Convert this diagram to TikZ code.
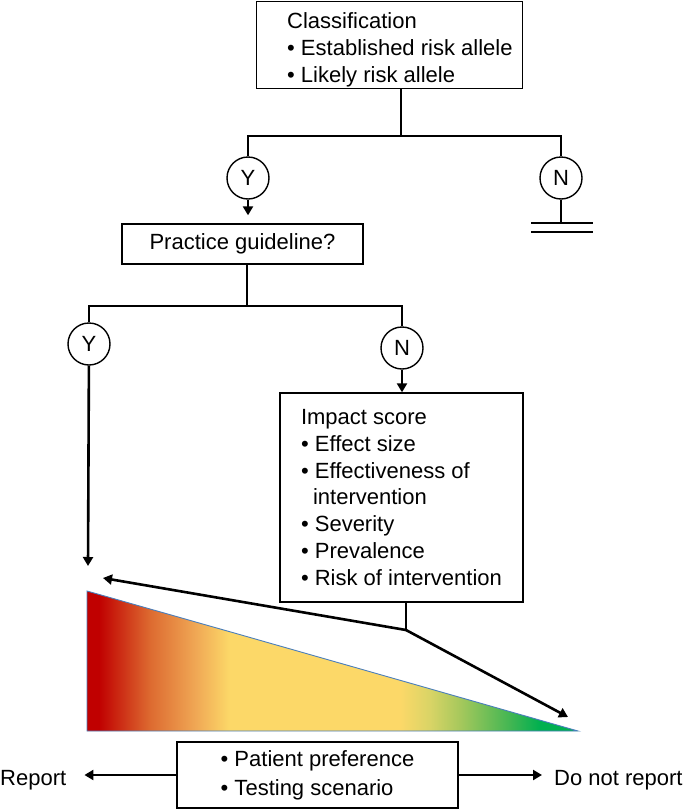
\documentclass[tikz,border=0pt]{standalone}
\usepackage{fontspec}
\setmainfont{Liberation Sans}
\usetikzlibrary{arrows.meta}

\definecolor{riskA}{HTML}{C00000}
\definecolor{riskB}{HTML}{DD6A30}
\definecolor{riskC}{HTML}{F0A855}
\definecolor{riskD}{HTML}{FCD868}
\definecolor{riskE}{HTML}{D9D466}
\definecolor{riskF}{HTML}{A6C85C}
\definecolor{riskG}{HTML}{3DB552}
\definecolor{riskH}{HTML}{00B050}
\definecolor{riskedge}{HTML}{4A7EBB}

\pgfdeclarehorizontalshading{riskbar}{100bp}{color(0bp)=(riskA); color(25bp)=(riskA); color(26.2bp)=(riskA);
  color(31.4bp)=(riskB); color(36.1bp)=(riskC); color(39.5bp)=(riskD); color(56.9bp)=(riskD);
  color(59.9bp)=(riskE); color(63bp)=(riskF); color(68.3bp)=(riskG); color(71.1bp)=(riskH);
  color(75bp)=(riskH); color(100bp)=(riskH)}

\begin{document}
\begin{tikzpicture}[x=1pt, y=-1pt, >={Triangle[length=9pt,width=10pt]},
    every node/.style={font=\fontsize{22}{26.8}\selectfont},
    box/.style={draw, line width=1.4pt, inner sep=0pt, align=left},
    yn node/.style={circle, draw, line width=1.4pt, minimum size=42pt, inner sep=0pt},
    link/.style={line width=2.6pt}]

  \useasboundingbox (0,0) rectangle (685,809);

  % Classification
  \node[box, minimum width=266pt, minimum height=87pt, anchor=north west] (cls) at (256,1) {};
  \node[anchor=north west, inner sep=0pt, align=left] (clstext) at (287,12.5)
    {Classification\\• Established risk allele\\• Likely risk allele};

  % Level 1
  \coordinate (j1) at (401,136);
  \node[yn node] (y1) at (248,178) {Y};
  \node[yn node] (n1) at (561,178) {N};
  \node[box, align=center, minimum width=241pt, minimum height=40pt] (pg) at (242.5,244) {Practice guideline?};

  % stop sign under N
  \coordinate (g1) at (561,223);
  \coordinate (g2) at (561,232);

  % Level 2
  \coordinate (j2) at (247,306);
  \node[yn node] (y2) at (89,344) {Y};
  \node[yn node] (n2) at (402,348) {N};
  \node[box, minimum width=243pt, minimum height=209pt] (imp) at (401.5,497.5)
    {Impact score\\• Effect size\\• Effectiveness of\\\hspace*{12pt}intervention\\• Severity\\• Prevalence\\• Risk of intervention};

  % Scale
  \coordinate (ytip) at (88,566);
  \coordinate (j3) at (406,630);
  \coordinate (ltip) at (103,578);
  \coordinate (rtip) at (568,717);
  \coordinate (t1) at (87,591);
  \coordinate (t2) at (87,731);
  \coordinate (t3) at (578,731);
  \shadedraw[shading=riskbar, draw=riskedge, line width=0.9pt] (t1) -- (t2) -- (t3) -- cycle;

  % Bottom row
  \node[box, align=left, minimum width=281pt, minimum height=66pt,
    font=\fontsize{22}{29}\selectfont] (pref) at (317.5,775) {• Patient preference\\• Testing scenario};
  \node[anchor=base west, inner sep=0pt] (rep) at (0,785) {Report};
  \node[anchor=base west, inner sep=0pt] (norep) at (554,785) {Do not report};

  % Connectors
  \draw[link] (cls.south -| j1) -- (j1);
  \draw[link] (y1.north) |- (j1) -| (n1.north);
  \draw[link, ->, shorten >=8pt] (y1) -- (y1 |- pg.north);
  \draw[link] (n1) -- (g1);
  \draw[link] ([xshift=-30pt]g1) -- ([xshift=32pt]g1);
  \draw[link] ([xshift=-30pt]g2) -- ([xshift=32pt]g2);
  \draw[link] (pg.south -| j2) -- (j2);
  \draw[link] (y2.north) |- (j2) -| (n2.north);
  \draw[link, ->] (n2) -- (n2 |- imp.north);
  \draw[link, ->] (y2) -- (ytip);
  \draw[link] (imp.south -| j3) -- (j3);
  \draw[link, ->] (j3) -- (ltip);
  \draw[link, ->] (j3) -- (rtip);
  \draw[link, ->, shorten >=18pt] (pref.west) -- (pref.west -| rep.east);
  \draw[link, ->, shorten >=12pt] (pref.east) -- (pref.east -| norep.west);
\end{tikzpicture}
\end{document}
